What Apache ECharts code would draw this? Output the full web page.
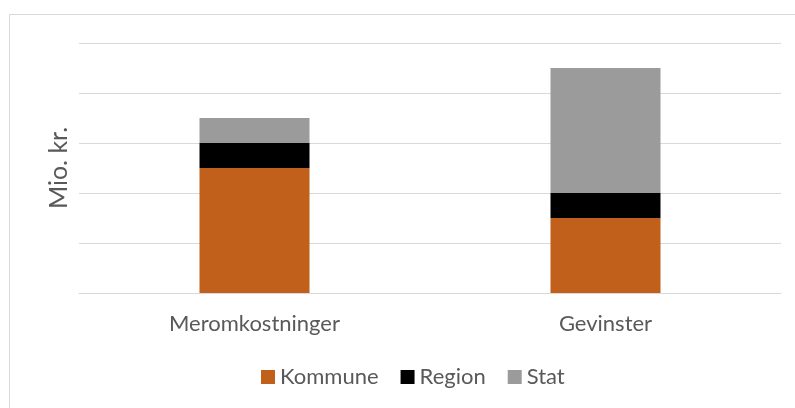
<!DOCTYPE html>
<html>
<head>
<meta charset="utf-8">
<script src="https://cdn.jsdelivr.net/npm/echarts@6/dist/echarts.min.js"></script>
<style>
  html, body { margin: 0; padding: 0; background: #fff; }
  #chart { width: 795px; height: 408px; }
</style>
</head>
<body>
<div id="chart"></div>
<script>
// data (units of Mio. kr., axis has no labels)
const categories = ['Meromkostninger', 'Gevinster'];
const kommune = [2.5, 1.5];
const region = [0.5, 0.5];
const stat = [0.5, 2.5];

const textColor = '#595959';
const fontFamily = 'Lato';

const chart = echarts.init(document.getElementById('chart'));

const option = {
    backgroundColor: '#fff',
    animation: false,
    textStyle: { fontFamily: fontFamily },
    graphic: [
        {
            type: 'rect',
            shape: { x: 9.5, y: 14.5, width: 800, height: 420 },
            style: { fill: 'none', stroke: '#D9D9D9', lineWidth: 1 },
            silent: true
        }
    ],
    grid: { left: 79, right: 14, top: 43, bottom: 115 },
    legend: {
        data: ['Kommune', 'Region', 'Stat'],
        left: 256,
        top: 361,
        itemWidth: 14,
        itemHeight: 14,
        itemGap: 22,
        icon: 'rect',
        textStyle: { color: textColor, fontSize: 22, fontFamily: fontFamily }
    },
    xAxis: {
        type: 'category',
        data: categories,
        axisLine: { show: true, lineStyle: { color: '#D9D9D9', width: 1 } },
        axisTick: { show: false },
        axisLabel: { color: textColor, fontSize: 22, margin: 20, fontFamily: fontFamily }
    },
    yAxis: {
        type: 'value',
        min: 0,
        max: 5,
        interval: 1,
        name: 'Mio. kr.',
        nameLocation: 'middle',
        nameGap: 8,
        nameTextStyle: { color: textColor, fontSize: 25, fontFamily: fontFamily },
        axisLabel: { show: false },
        axisLine: { show: false },
        axisTick: { show: false },
        splitLine: { lineStyle: { color: '#D9D9D9', width: 1 } }
    },
    series: [
        { name: 'Kommune', type: 'bar', stack: 'total', barWidth: 110, data: kommune, itemStyle: { color: '#C0601A' } },
        { name: 'Region', type: 'bar', stack: 'total', barWidth: 110, data: region, itemStyle: { color: '#000000' } },
        { name: 'Stat', type: 'bar', stack: 'total', barWidth: 110, data: stat, itemStyle: { color: '#9B9B9B' } }
    ]
};

chart.setOption(option);
</script>
</body>
</html>
